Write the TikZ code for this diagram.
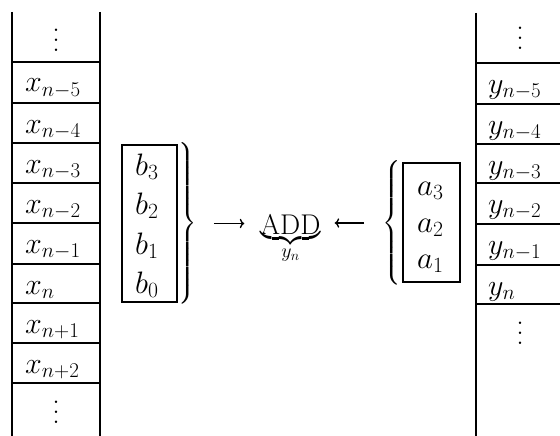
\RequirePackage{fix-cm}
\documentclass[tikz,border=0pt]{standalone}
\usepackage{exscale}
\usetikzlibrary{arrows.meta}
\begin{document}
\begin{tikzpicture}[x=1pt,y=-1pt,
  rule/.style={line width=1.4pt},
  lab/.style={font=\fontsize{30}{36}\selectfont, anchor=base west, inner sep=0pt},
  coef/.style={font=\fontsize{31}{37}\selectfont, anchor=base west, inner sep=0pt},
  vd/.style={font=\fontsize{30}{36}\selectfont, inner sep=0pt},
  regbox/.style={draw, line width=1.2pt, inner sep=0pt},
  bracenode/.style={font=\fontsize{21}{25}\selectfont, inner sep=0pt},
  arr/.style={line width=1.3pt, -{Computer Modern Rightarrow}}]
\useasboundingbox (0,0) rectangle (560,436);
% left column
\draw[rule] (12,12) -- (12,436);
\draw[rule] (100,12) -- (100,436);
\foreach \yy in {62,103,143,183,223,264,303,343,383}
  \draw[rule] (12,\yy) -- (100,\yy);
\node[vd] (xtop) at (56,40) {\vbox{\baselineskip=10pt\lineskiplimit=-100pt\hbox{.}\hbox{.}\hbox{.}}};
\foreach \yb/\s [count=\i] in {92/n-5,133/n-4,173/n-3,213/n-2,253/n-1,294/n,333/n+1,373/n+2}
  \node[lab] (x\i) at (25,\yb) {$x_{\s}$};
\node[vd] (xbot) at (56,412) {\vbox{\baselineskip=10pt\lineskiplimit=-100pt\hbox{.}\hbox{.}\hbox{.}}};
% right column
\draw[rule] (476,13) -- (476,436);
\foreach \yy in {63,104,144,183,224,265,304}
  \draw[rule] (476,\yy) -- (560,\yy);
\node[vd] (ytop) at (520,38) {\vbox{\baselineskip=10pt\lineskiplimit=-100pt\hbox{.}\hbox{.}\hbox{.}}};
\foreach \yb/\s [count=\i] in {93/n-5,134/n-4,174/n-3,213/n-2,254/n-1,295/n}
  \node[lab] (y\i) at (488,\yb) {$y_{\s}$};
\node[vd] (ybot) at (520,333) {\vbox{\baselineskip=10pt\lineskiplimit=-100pt\hbox{.}\hbox{.}\hbox{.}}};
% b coefficients
\node[regbox, minimum width=55pt, minimum height=157pt] (bbox) at (149.5,223.5) {};
\foreach \yb/\s in {175/3,214/2,254/1,293/0}
  \node[coef] (b\s) at (135,\yb) {$b_{\s}$};
\node[bracenode, anchor=west] (rb) at (178,223.5)
  {$\nulldelimiterspace=0pt\left.\vcenter{\hbox{\vrule height 156pt width 0pt}}\right\}$};
% a coefficients
\node[regbox, minimum width=57pt, minimum height=119pt] (abox) at (431.5,222.5) {};
\foreach \yb/\s in {195/3,232/2,268/1}
  \node[coef] (a\s) at (417,\yb) {$a_{\s}$};
\node[bracenode, anchor=east] (lb) at (401,223)
  {$\nulldelimiterspace=0pt\left\{\vcenter{\hbox{\vrule height 118pt width 0pt}}\right.$};
% ADD
\node[font=\fontsize{28.5}{34}\selectfont, anchor=base, inner sep=0pt] (add) at (290.5,234)
  {$\underbrace{\hbox{ADD}}_{y_n}$};
\draw[arr, shorten <=17pt, shorten >=16pt] (rb.east) -- (rb.east -| add.west);
\draw[arr, shorten <=18pt, shorten >=14pt] (lb.west) -- (lb.west -| add.east);
\end{tikzpicture}
\end{document}
